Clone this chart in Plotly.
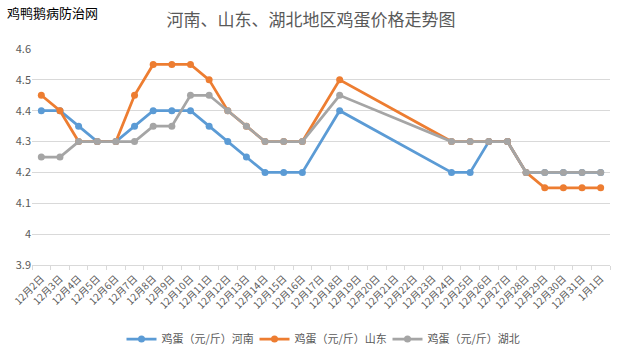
import plotly.graph_objects as go

categories = ["12月2日", "12月3日", "12月4日", "12月5日", "12月6日", "12月7日", "12月8日",
              "12月9日", "12月10日", "12月11日", "12月12日", "12月13日", "12月14日", "12月15日",
              "12月16日", "12月17日", "12月18日", "12月19日", "12月20日", "12月21日", "12月22日",
              "12月23日", "12月24日", "12月25日", "12月26日", "12月27日", "12月28日", "12月29日",
              "12月30日", "12月31日", "1月1日"]

henan = [4.4, 4.4, 4.35, 4.3, 4.3, 4.35, 4.4, 4.4, 4.4, 4.35, 4.3, 4.25, 4.2, 4.2, 4.2,
         None, 4.4, None, None, None, None, None, 4.2, 4.2, 4.3, 4.3, 4.2, 4.2, 4.2, 4.2, 4.2]
shandong = [4.45, 4.4, 4.3, 4.3, 4.3, 4.45, 4.55, 4.55, 4.55, 4.5, 4.4, 4.35, 4.3, 4.3, 4.3,
            None, 4.5, None, None, None, None, None, 4.3, 4.3, 4.3, 4.3, 4.2, 4.15, 4.15, 4.15, 4.15]
hubei = [4.25, 4.25, 4.3, 4.3, 4.3, 4.3, 4.35, 4.35, 4.45, 4.45, 4.4, 4.35, 4.3, 4.3, 4.3,
         None, 4.45, None, None, None, None, None, 4.3, 4.3, 4.3, 4.3, 4.2, 4.2, 4.2, 4.2, 4.2]

series = [("鸡蛋（元/斤）河南", henan, "#5B9BD5"),
          ("鸡蛋（元/斤）山东", shandong, "#ED7D31"),
          ("鸡蛋（元/斤）湖北", hubei, "#A5A5A5")]

FONT = "Noto Sans CJK SC"
TXT = "#595959"

fig = go.Figure()
for name, vals, color in series:
    fig.add_trace(go.Scatter(
        x=categories, y=vals, name=name, mode="lines+markers",
        connectgaps=True,
        line=dict(color=color, width=2.75),
        marker=dict(color=color, size=7),
    ))

fig.update_layout(
    width=622, height=353,
    margin=dict(l=32, r=12, t=49, b=88, autoexpand=False),
    paper_bgcolor="white", plot_bgcolor="white",
    font=dict(family=FONT, color=TXT, size=10),
    title=dict(text="河南、山东、湖北地区鸡蛋价格走势图", x=0.5, xanchor="center",
               y=0.943, yanchor="middle",
               font=dict(family=FONT, size=17, color=TXT)),
    showlegend=True,
    legend=dict(orientation="h", x=0.5, xanchor="center", y=-0.343, yanchor="middle",
                font=dict(family=FONT, size=11, color=TXT), itemwidth=30,
                entrywidth=88, entrywidthmode="pixels", tracegroupgap=0),
)
fig.add_annotation(text="鸡鸭鹅病防治网", xref="paper", yref="paper",
                   x=-0.047, xanchor="left", y=1.17, yanchor="middle",
                   showarrow=False, font=dict(family=FONT, size=13, color="#000000"))

fig.update_xaxes(
    type="category", categoryorder="array", categoryarray=categories,
    tickangle=-45, tickfont=dict(size=10, color=TXT, family=FONT),
    showgrid=False, showline=True, linecolor="#D9D9D9", linewidth=1,
    ticks="outside", tickson="boundaries", ticklen=4, tickcolor="#D9D9D9",
    ticklabelstandoff=3,
    range=[-0.5, len(categories) - 0.5], fixedrange=True, automargin=False,
)
fig.update_yaxes(
    range=[3.9, 4.6], dtick=0.1, tick0=3.9,
    showgrid=True, gridcolor="#D9D9D9", gridwidth=1,
    zeroline=False, showline=False, ticks="", automargin=False,
    tickfont=dict(size=11, color=TXT, family=FONT), fixedrange=True,
)

fig.write_html("out.html")
